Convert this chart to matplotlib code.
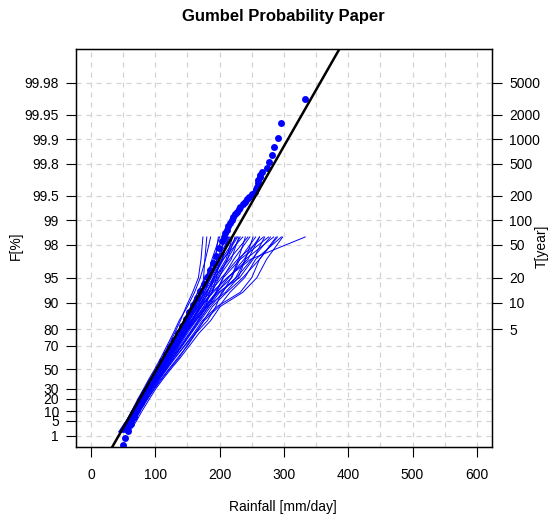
import numpy as np
import matplotlib
matplotlib.use("Agg")
import matplotlib.pyplot as plt
from matplotlib.ticker import MultipleLocator

plt.rcParams['font.family'] = ['Liberation Sans', 'DejaVu Sans']

# non-exceedance levels (%) at which each member curve is read
member_F = [1.6, 5, 10, 20, 30, 40, 50, 60, 70, 78, 84, 89, 92.5, 95, 97, 98.4]
# rainfall [mm/day] of each ensemble member at those levels
members = [
    [50, 60, 68, 79, 88, 97, 105, 115, 126, 138, 150, 163, 176, 190, 206, 228],
    [47, 58, 66, 76, 86, 95, 104, 113, 124, 134, 144, 155, 166, 178, 190, 205],
    [55, 66, 74, 85, 94, 103, 112, 122, 134, 147, 160, 178, 196, 214, 238, 262],
    [44, 56, 63, 73, 82, 90, 99, 108, 118, 128, 137, 150, 161, 170, 178, 186],
    [52, 63, 71, 83, 93, 103, 114, 126, 141, 155, 168, 183, 200, 226, 250, 279],
    [49, 60, 69, 80, 90, 99, 108, 119, 131, 144, 158, 172, 181, 190, 204, 214],
    [58, 69, 76, 88, 98, 107, 118, 130, 145, 160, 173, 196, 232, 250, 262, 290],
    [46, 57, 65, 75, 84, 92, 101, 110, 120, 130, 139, 148, 158, 167, 171, 174],
    [51, 62, 70, 81, 91, 100, 110, 120, 132, 145, 162, 180, 194, 205, 222, 247],
    [54, 64, 72, 83, 92, 101, 111, 121, 131, 141, 153, 166, 185, 203, 228, 268],
    [48, 59, 67, 78, 87, 96, 106, 117, 129, 141, 152, 164, 178, 196, 212, 232],
    [53, 65, 73, 84, 95, 105, 116, 128, 142, 156, 170, 186, 205, 218, 229, 240],
    [45, 56, 64, 74, 83, 92, 102, 112, 124, 137, 150, 166, 176, 186, 196, 210],
    [56, 67, 75, 86, 96, 106, 117, 130, 146, 162, 176, 199, 216, 239, 256, 296],
    [50, 61, 69, 79, 88, 97, 107, 117, 128, 139, 149, 161, 173, 185, 199, 218],
    [47, 59, 67, 78, 89, 99, 110, 120, 131, 142, 155, 171, 190, 212, 244, 262],
    [43, 55, 63, 74, 84, 93, 103, 113, 124, 136, 148, 160, 174, 181, 188, 200],
    [57, 67, 75, 87, 98, 109, 121, 134, 150, 163, 181, 194, 203, 225, 240, 252],
    [50, 62, 70, 82, 92, 101, 111, 124, 136, 148, 158, 170, 188, 199, 212, 224],
    [52, 62, 69, 80, 89, 98, 107, 117, 127, 137, 148, 161, 173, 187, 205, 236],
    [48, 58, 66, 77, 86, 96, 106, 118, 132, 146, 163, 181, 209, 229, 240, 284],
    [54, 65, 73, 84, 93, 102, 112, 123, 135, 148, 161, 175, 188, 195, 200, 208],
    [46, 58, 66, 77, 87, 97, 107, 118, 130, 141, 156, 172, 188, 212, 248, 333],
    [51, 61, 70, 81, 91, 101, 111, 122, 134, 146, 157, 168, 179, 193, 210, 220],
    [60, 71, 79, 91, 101, 112, 124, 138, 153, 168, 186, 201, 236, 258, 273, 298],
    [49, 60, 68, 78, 87, 95, 104, 114, 125, 136, 146, 156, 166, 178, 193, 198],
    [45, 57, 65, 76, 86, 96, 106, 117, 130, 143, 158, 176, 195, 219, 231, 256],
    [53, 63, 71, 82, 92, 102, 113, 125, 139, 153, 166, 179, 184, 192, 215, 244],
    [47, 58, 66, 76, 86, 95, 104, 114, 125, 136, 147, 159, 171, 182, 196, 216],
    [55, 66, 74, 85, 95, 105, 115, 126, 137, 150, 163, 179, 198, 231, 252, 270],
    [44, 55, 64, 75, 85, 94, 104, 115, 127, 139, 151, 162, 172, 175, 177, 180],
    [50, 61, 69, 80, 90, 100, 110, 121, 133, 144, 156, 169, 183, 198, 218, 230],
    [58, 68, 76, 88, 99, 110, 122, 136, 149, 163, 175, 189, 211, 236, 262, 288],
    [48, 60, 68, 79, 89, 98, 108, 119, 130, 141, 153, 167, 180, 191, 204, 212],
    [52, 64, 72, 83, 94, 104, 115, 127, 141, 154, 167, 183, 195, 206, 232, 276],
    [46, 57, 65, 76, 86, 96, 105, 115, 126, 137, 148, 160, 171, 185, 203, 226],
]

# pooled sample (sorted): plotting position (%) and rainfall
pooled_F = [0.24, 0.71, 1.73, 3.6, 6.6, 10.8, 16.2, 22.5, 29.5, 36.8, 44.1, 51.2,
            57.8, 63.8, 69.2, 74.0, 78.1, 81.7, 84.8, 87.3, 89.5, 91.3, 92.8, 94.1,
            95.1, 96.0, 96.7, 97.3, 97.8, 98.19, 98.40, 98.55, 98.69, 98.81, 98.92,
            99.01, 99.095, 99.16, 99.22, 99.27, 99.32, 99.37, 99.41, 99.45, 99.487,
            99.525, 99.558, 99.59, 99.616, 99.65, 99.682, 99.705, 99.723, 99.747,
            99.776, 99.811, 99.844, 99.876, 99.903, 99.937, 99.968]
pooled_rain = [50, 53, 57, 62, 67, 72, 77, 82, 88, 94, 99, 105,
               111, 117, 123, 129, 135, 141, 147, 153, 159, 165, 170, 175,
               180, 185, 190, 195, 199, 203, 206, 208.5, 211, 213.5, 216,
               218.5, 221, 224, 227, 229.5, 232, 236, 240, 243, 246,
               251, 255, 257, 258, 259, 260, 262, 263, 266,
               274, 276, 281, 284, 290, 296, 332]

# fitted Gumbel line, two end points
fit_F = [0.01, 99.995]
fit_rain = [21.4, 399.6]

F_ticks = [1, 5, 10, 20, 30, 50, 70, 80, 90, 95, 98, 99, 99.5, 99.8, 99.9, 99.95, 99.98]
T_ticks = [5, 10, 20, 50, 100, 200, 500, 1000, 2000, 5000]
x_ticks = [0, 100, 200, 300, 400, 500, 600]


def gumbel(F):
    p = np.clip(np.asarray(F, dtype=float) / 100.0, 1e-12, 1 - 1e-12)
    return -np.log(-np.log(p))


def gumbel_inv(y):
    return 100.0 * np.exp(-np.exp(-np.asarray(y, dtype=float)))


fig = plt.figure(figsize=(5.52, 5.17), dpi=100)
ax = fig.add_axes([75.6 / 552, 70 / 517, (492.3 - 75.6) / 552, (447 - 49) / 517])
ax.set_yscale('function', functions=(gumbel, gumbel_inv))

for m in members:
    ax.plot(m, member_F, color='#0000FF', lw=0.7, zorder=3)
ax.plot(pooled_rain, pooled_F, 'o', color='#0000FF', ms=5.0, mec='none', zorder=4)
ax.plot(fit_rain, fit_F, color='black', lw=1.8, zorder=5)

ylim = (0.1741, 99.99233)
ax.set_xlim(-24, 624)
ax.set_ylim(*ylim)

ax.set_xticks(x_ticks)
ax.xaxis.set_minor_locator(MultipleLocator(50))
ax.set_yticks(F_ticks)
ax.set_yticklabels([f"{v:g}" for v in F_ticks])
ax.tick_params(axis='both', which='major', direction='out', length=7, width=0.8,
               labelsize=10, pad=5, colors='black')
ax.tick_params(axis='x', which='major', pad=8)
ax.tick_params(axis='x', which='minor', length=0)
ax.grid(True, which='both', axis='x', color='#D3D3D3', ls=(0, (4, 4)), lw=0.9, zorder=1)
ax.grid(True, which='major', axis='y', color='#D3D3D3', ls=(0, (4, 4)), lw=0.9, zorder=1)
for s in ax.spines.values():
    s.set_linewidth(1.0)

ax2 = ax.twinx()
ax2.set_yscale('function', functions=(gumbel, gumbel_inv))
ax2.set_ylim(*ylim)
ax2.set_yticks([100 * (1 - 1 / T) for T in T_ticks])
ax2.set_yticklabels([str(T) for T in T_ticks])
ax2.tick_params(axis='y', direction='out', length=7, width=0.8, labelsize=10, pad=5)
ax2.yaxis.set_minor_locator(plt.NullLocator())

fig.text(283 / 552, 1 - 17 / 517, "Gumbel Probability Paper", ha='center', va='center',
         fontsize=12, fontweight='bold')
fig.text(283 / 552, 1 - 507 / 517, "Rainfall [mm/day]", ha='center', va='center', fontsize=10)
fig.text(16 / 552, 1 - 246 / 517, "F[%]", ha='center', va='center', rotation=90, fontsize=10)
fig.text(542 / 552, 1 - 246 / 517, "T[year]", ha='center', va='center', rotation=90, fontsize=10)

fig.savefig("out.png", dpi=100)
